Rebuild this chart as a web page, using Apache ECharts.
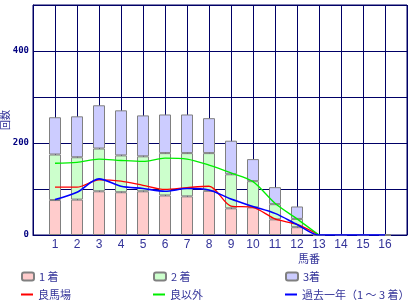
<!DOCTYPE html>
<html><head><meta charset="utf-8">
<script src="https://cdn.jsdelivr.net/npm/echarts@6/dist/echarts.min.js"></script>
<style>html,body{margin:0;padding:0;background:#fff}#c{width:420px;height:300px}</style>
</head><body><div id="c"></div>
<script>
const categories = ['1','2','3','4','5','6','7','8','9','10','11','12','13','14','15','16'];
const first  = [76,77,95,93,95,86,84,96,58,60,34,17,0,0,0,0];
const second = [99,92,93,80,76,92,94,82,74,57,33,18,0,0,0,0];
const third  = [81,89,94,98,89,84,84,76,73,48,37,27,0,0,0,0];
const ryo    = [104,104,120,117,108,99,103,106,63,60,35,23,0,null,null,null];
const ryoIgai= [156,158,165,162,160,167,165,152,135,116,69,35,0,null,null,null];
const kako   = [77,93,122,106,101,95,101,98,78,62,47,23,0,0,0,0];
const yTicks = [0,200,400];
const legendNames = ['1 着','2 着','3着','良馬場','良以外','過去一年（1 ～ 3 着）'];

// axis has an empty slot before 1 and after 16
const axisCats = [' '].concat(categories).concat(['  ']);
const pad = arr => [null].concat(arr).concat([null]);
const navy = '#000066';
const txt = '#333399';
const font = '"Noto Sans CJK JP", "Liberation Sans", sans-serif';

const barStyle = (color)=>({color:color,borderColor:'#808080',borderWidth:1});
const series = [
  {name:legendNames[0],type:'bar',stack:'a',barWidth:12,data:pad(first),itemStyle:barStyle('#ffcccc'),z:2},
  {name:legendNames[1],type:'bar',stack:'a',barWidth:12,data:pad(second),itemStyle:barStyle('#ccffcc'),z:2},
  {name:legendNames[2],type:'bar',stack:'a',barWidth:12,data:pad(third),itemStyle:barStyle('#ccccff'),z:2},
  {name:legendNames[3],type:'line',data:pad(ryo),symbol:'none',smooth:0.3,lineStyle:{color:'#ff0000',width:1.3},itemStyle:{color:'#ff0000'},z:5},
  {name:legendNames[4],type:'line',data:pad(ryoIgai),symbol:'none',smooth:0.3,lineStyle:{color:'#00ee00',width:1.3},itemStyle:{color:'#00ee00'},z:5},
  {name:legendNames[5],type:'line',data:pad(kako),symbol:'none',smooth:0.3,lineStyle:{color:'#0000ff',width:1.6},itemStyle:{color:'#0000ff'},z:6}
];

const lineIcon = 'path://M0,0h0.01v0.01h-0.01zM0,3h12v2h-12zM11.99,7.99h0.01v0.01h-0.01z';
const legendPos = [[16,266],[148,266],[280,266],[16,284],[148,284],[280,284]];
const legends = legendNames.map((n,i)=>({
  data:[i<3?{name:n}:{name:n,icon:lineIcon}], left:legendPos[i][0], top:legendPos[i][1], itemWidth:12, itemHeight:8, itemGap:0,
  textStyle:{color:txt,fontSize:11,fontFamily:font}, selectedMode:false
}));

const chart = echarts.init(document.getElementById('c'),null,{renderer:'canvas'});
chart.setOption({
  animation:false,
  backgroundColor:'#fff',
  grid:{left:33,right:13,top:5,bottom:65,show:true,borderColor:navy,borderWidth:1,outerBoundsMode:'none',containLabel:false},
  legend:legends,
  xAxis:{type:'category',data:axisCats,boundaryGap:false,
    axisLine:{show:true,lineStyle:{color:navy,width:1}},
    axisTick:{show:false},
    splitLine:{show:true,interval:0,lineStyle:{color:navy,width:1}},
    axisLabel:{color:txt,fontSize:12,fontFamily:'"Liberation Sans", Arial, sans-serif',margin:4,interval:0}
  },
  yAxis:{type:'value',min:0,max:500,interval:100,
    name:'回数',nameLocation:'middle',nameGap:23,nameRotate:90,nameMoveOverlap:false,
    nameTextStyle:{color:txt,fontSize:10,fontFamily:font},
    axisLine:{show:true,lineStyle:{color:navy,width:1}},
    axisTick:{show:false},
    splitLine:{show:true,lineStyle:{color:navy,width:1}},
    axisLabel:{color:'#000080',fontSize:9,fontWeight:'bold',fontFamily:'"DejaVu Sans Mono", monospace',margin:4,
      formatter:v=>yTicks.includes(v)?String(v):''}
  },
  graphic:[{type:'text',left:298,top:253,style:{text:'馬番',fill:txt,font:'11px "Noto Sans CJK JP", sans-serif'}}],
  series:series
});
</script></body></html>
